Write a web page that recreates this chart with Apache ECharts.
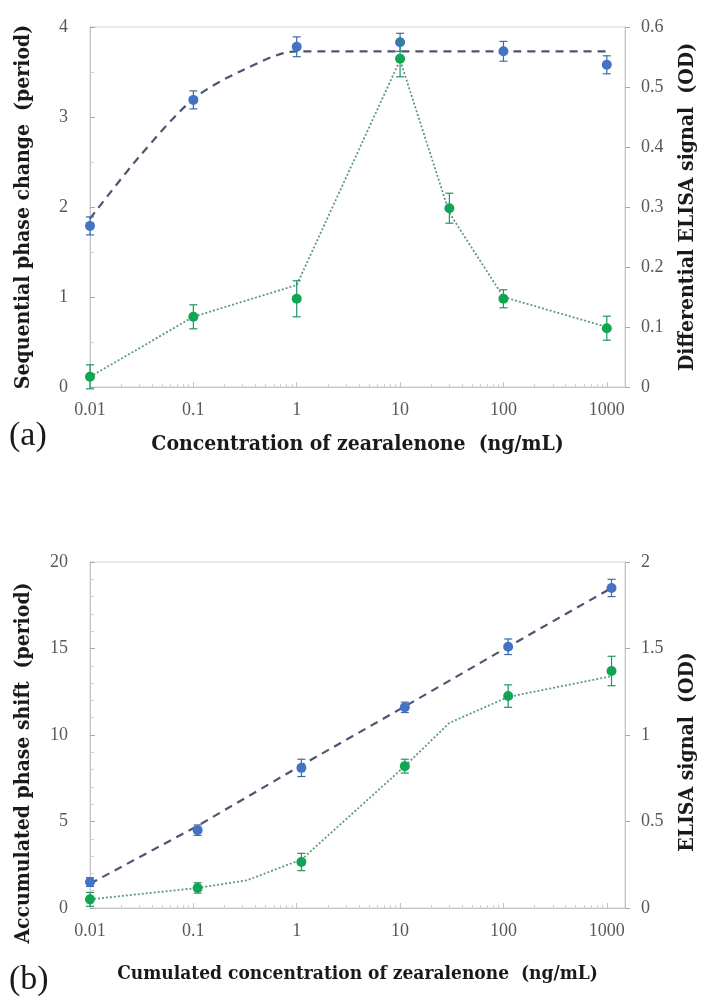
<!DOCTYPE html>
<html>
<head>
<meta charset="utf-8">
<script src="https://cdn.jsdelivr.net/npm/echarts@6/dist/echarts.min.js"></script>
<style>
  html, body { margin: 0; padding: 0; background: #fff; }
  #chart { width: 706px; height: 1003px; }
</style>
</head>
<body>
<div id="chart"></div>
<script>
// tick labels for the log x axes (one per decade, from 0.01)
const xTickLabels = ['0.01', '0.1', '1', '10', '100', '1000']

// (a) sequential measurements
const concA = [0.01, 0.1, 1, 10, 100, 1000]
const phaseA = [1.79, 3.19, 3.78, 3.83, 3.73, 3.58]
const phaseErrA = [0.1, 0.1, 0.11, 0.1, 0.11, 0.1]

// dashed trend curve of (a)
const fitXA = [0.01, 0.03, 0.1, 0.3, 1, 10, 100, 1000]
const phaseFitA = [1.87, 2.56, 3.2, 3.52, 3.73, 3.73, 3.73, 3.73]

const concElisaA = [0.01, 0.1, 1, 10, 30, 100, 1000]
const elisaA = [0.017, 0.117, 0.147, 0.547, 0.298, 0.147, 0.098]
const elisaErrA = [0.02, 0.02, 0.03, 0.03, 0.025, 0.015, 0.02]
const elisaLineA = [0.017, 0.117, 0.17, 0.545, 0.29, 0.15, 0.1]

// (b) cumulated measurements
const concB = [0.01, 0.11, 1.11, 11.11, 111.11, 1111.11]
const phaseB = [1.5, 4.5, 8.1, 11.6, 15.1, 18.5]
const phaseErrB = [0.25, 0.3, 0.5, 0.3, 0.45, 0.5]
const phaseFitB = [1.4, 4.75, 8.25, 11.65, 15.1, 18.5]

const elisaB = [0.05, 0.116, 0.266, 0.82, 1.225, 1.37]
const elisaErrB = [0.04, 0.03, 0.05, 0.04, 0.065, 0.085]
const concLineB = [0.01, 0.11, 0.33, 1.11, 11.11, 30, 111.11, 1111.11]
const elisaLineB = [0.05, 0.116, 0.16, 0.28, 0.82, 1.07, 1.22, 1.34]

const serif = '"Liberation Serif", "DejaVu Serif", serif'
const titleFont = '"DejaVu Serif Condensed", "Liberation Serif", serif'
const gray = '#595959'
const axisGray = '#c4c4c4'

const zip = (xs, ys, es) => xs.map((x, i) => es ? [x, ys[i], es[i]] : [x, ys[i]])

const xLabel = v => {
  const k = Math.log10(v)
  if (Math.abs(k - Math.round(k)) > 1e-6) return ''
  return xTickLabels[Math.round(k) + 2] || ''
}

const makeX = (gridIndex, name, gap, size) => ({
  type: 'log',
  gridIndex,
  min: 0.01,
  max: 1500,
  logBase: 10,
  name,
  nameLocation: 'middle',
  nameGap: gap,
  nameTextStyle: { fontFamily: titleFont, fontWeight: 'bold', fontSize: size, color: '#1a1a1a' },
  axisLine: { lineStyle: { color: axisGray } },
  axisTick: { inside: true, length: 5, lineStyle: { color: axisGray } },
  minorTick: { show: true, splitNumber: 9, length: 3, lineStyle: { color: '#d0d0d0' } },
  splitLine: { show: false },
  axisLabel: { formatter: xLabel, fontFamily: serif, fontSize: 18, color: gray, margin: 14 }
})

const makeY = (gridIndex, position, max, interval, minorSplit, name, pad, inside) => ({
  type: 'value',
  gridIndex,
  position,
  min: 0,
  max,
  interval,
  name,
  nameLocation: 'middle',
  nameRotate: 90,
  nameGap: position === 'left' ? 56 : 52,
  nameTextStyle: { fontFamily: titleFont, fontWeight: 'bold', fontSize: 21, color: '#1a1a1a', padding: pad },
  axisLine: { show: true, lineStyle: { color: axisGray } },
  axisTick: { show: true, inside, length: 5, lineStyle: { color: '#a8a8a8' } },
  minorTick: { show: minorSplit > 0, splitNumber: minorSplit || 5, length: 4, lineStyle: { color: '#d0d0d0' } },
  splitLine: { show: false },
  axisLabel: { fontFamily: serif, fontSize: 18, color: gray, margin: position === 'left' ? 22 : 16 }
})

// dots with vertical error bars, drawn through the axes
const errorSeries = (xIdx, yIdx, data, fill, barColor) => ({
  type: 'custom',
  xAxisIndex: xIdx,
  yAxisIndex: yIdx,
  z: 5,
  data,
  encode: { x: 0, y: 1 },
  renderItem: (params, api) => {
    const x = api.value(0), y = api.value(1), e = api.value(2)
    const p = api.coord([x, y])
    const hi = api.coord([x, y + e])
    const lo = api.coord([x, y - e])
    const ls = { stroke: barColor, lineWidth: 1.2 }
    return {
      type: 'group',
      children: [
        { type: 'line', shape: { x1: p[0], y1: hi[1], x2: p[0], y2: lo[1] }, style: ls },
        { type: 'line', shape: { x1: p[0] - 4, y1: hi[1], x2: p[0] + 4, y2: hi[1] }, style: ls },
        { type: 'line', shape: { x1: p[0] - 4, y1: lo[1], x2: p[0] + 4, y2: lo[1] }, style: ls },
        { type: 'circle', shape: { cx: p[0], cy: p[1], r: 5 }, style: { fill } }
      ]
    }
  }
})

const fitLine = (xIdx, yIdx, data, smooth) => ({
  type: 'line', xAxisIndex: xIdx, yAxisIndex: yIdx, data, symbol: 'none',
  smooth, z: 2,
  lineStyle: { color: '#4b5670', width: 2.2, type: [8, 6] }
})

const dotLine = (xIdx, yIdx, data) => ({
  type: 'line', xAxisIndex: xIdx, yAxisIndex: yIdx, data, symbol: 'none', z: 2,
  lineStyle: { color: '#5e9b7e', width: 1.8, type: [2, 2] }
})

const chart = echarts.init(document.getElementById('chart'), null, { renderer: 'canvas' })

chart.setOption({
  backgroundColor: '#fff',
  animation: false,
  grid: [
    { left: 90, right: 81, top: 27, height: 360, show: true, borderColor: '#d4d4d4', borderWidth: 1 },
    { left: 90, right: 81, top: 562, height: 346, show: true, borderColor: '#d4d4d4', borderWidth: 1 }
  ],
  xAxis: [
    makeX(0, 'Concentration of zearalenone  (ng/mL)', 47, 21),
    makeX(1, 'Cumulated concentration of zearalenone  (ng/mL)', 57, 19)
  ],
  yAxis: [
    makeY(0, 'left', 4, 1, 2, 'Sequential phase change  (period)', [0, 0, 0, 0], true),
    makeY(0, 'right', 0.6, 0.1, 0, 'Differential ELISA signal  (OD)', [0, 0, 0, 0], false),
    makeY(1, 'left', 20, 5, 5, 'Accumulated phase shift  (period)', [0, 56, 0, 0], true),
    makeY(1, 'right', 2, 0.5, 0, 'ELISA signal  (OD)', [0, 34, 0, 0], false)
  ],
  graphic: [
    { type: 'text', left: 9, top: 419, style: { text: '(a)', font: '34px ' + serif, fill: '#1a1a1a' } },
    { type: 'text', left: 9, top: 963, style: { text: '(b)', font: '34px ' + serif, fill: '#1a1a1a' } }
  ],
  series: [
    fitLine(0, 0, zip(fitXA, phaseFitA), 0.3),
    dotLine(0, 1, zip(concElisaA, elisaLineA)),
    errorSeries(0, 0, zip(concA, phaseA, phaseErrA), '#4472c4', '#3a6aa8'),
    errorSeries(0, 1, zip(concElisaA, elisaA, elisaErrA), '#0fa552', '#1f9465'),

    fitLine(1, 2, zip(concB, phaseFitB), false),
    dotLine(1, 3, zip(concLineB, elisaLineB)),
    errorSeries(1, 2, zip(concB, phaseB, phaseErrB), '#4472c4', '#3a6aa8'),
    errorSeries(1, 3, zip(concB, elisaB, elisaErrB), '#0fa552', '#1f9465')
  ]
})
</script>
</body>
</html>
